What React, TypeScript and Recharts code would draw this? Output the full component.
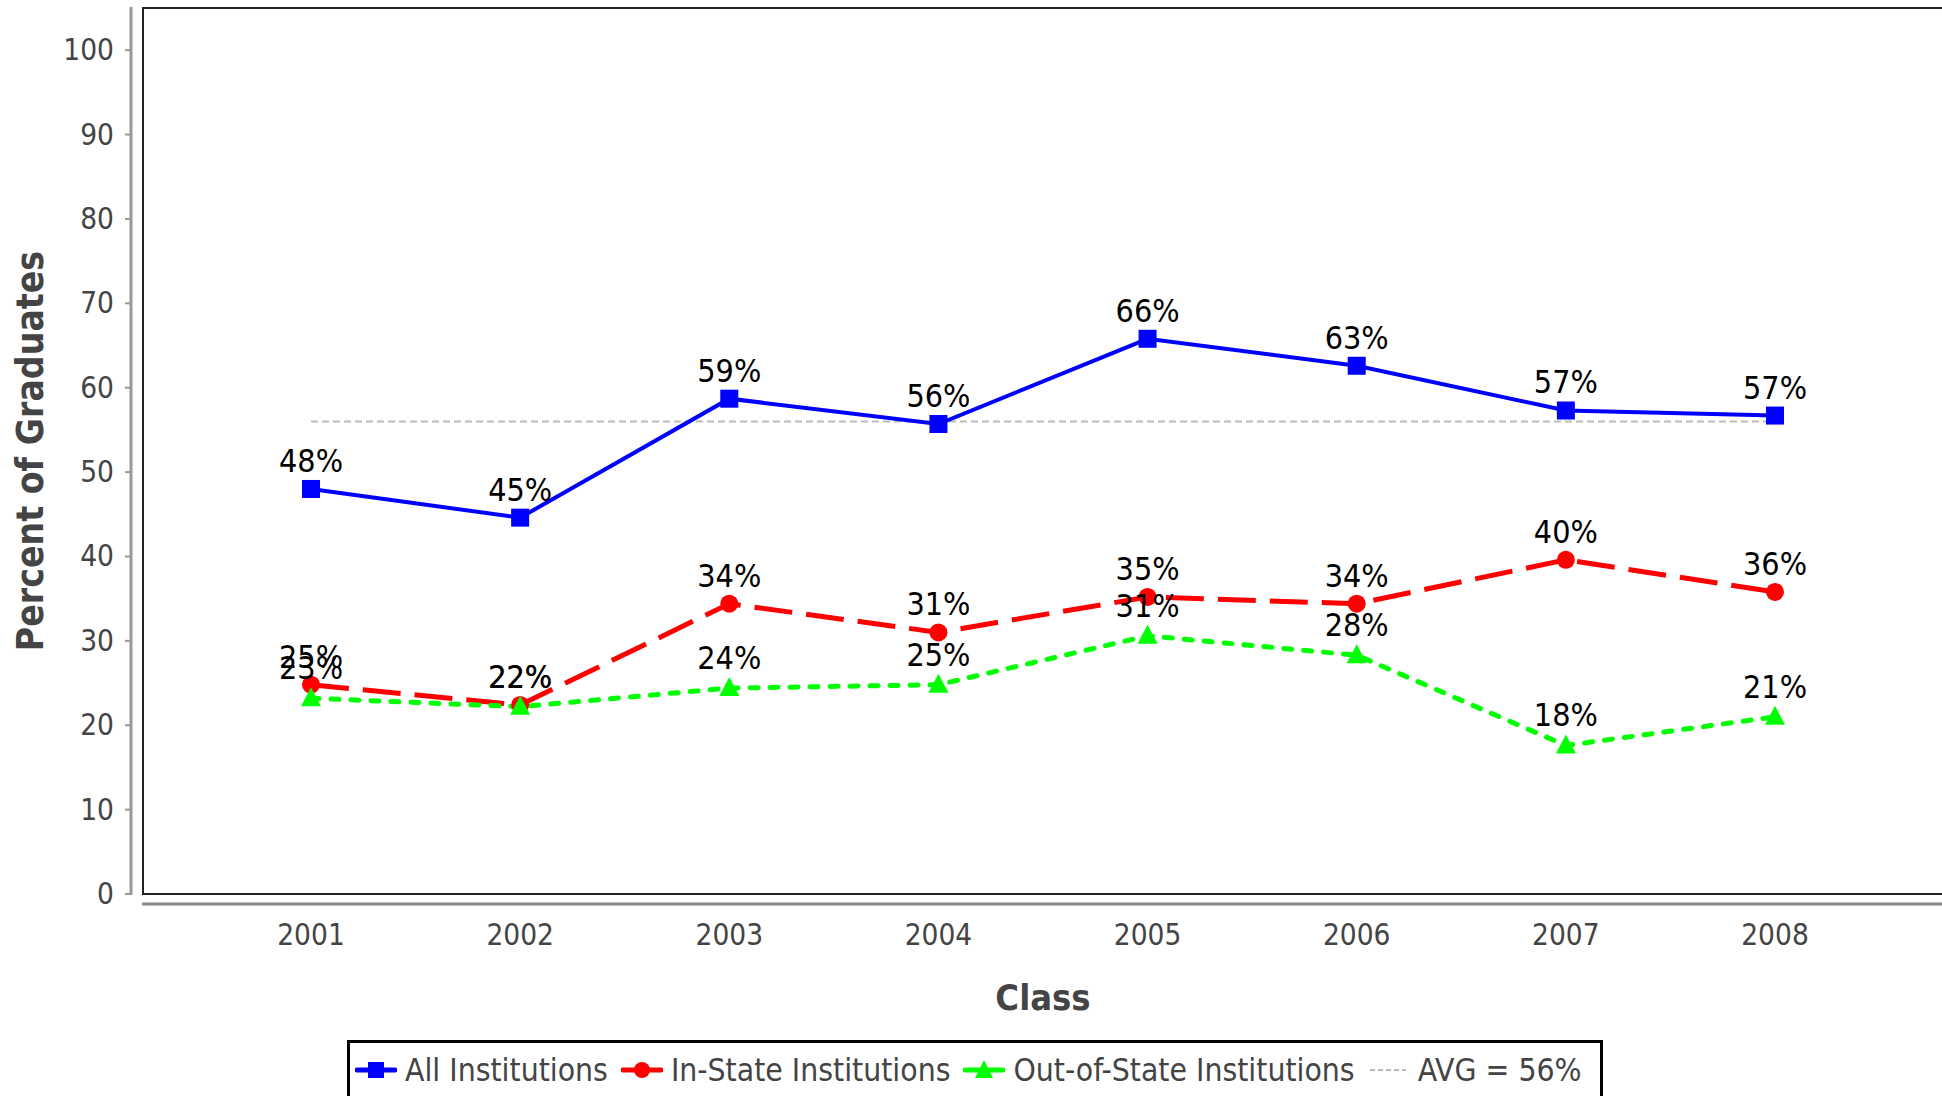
import React from "react";
import { LineChart, Line, XAxis, YAxis, LabelList } from "recharts";

const years = ["2001", "2002", "2003", "2004", "2005", "2006", "2007", "2008"];
const allInstitutions = [48.0, 44.6, 58.7, 55.7, 65.8, 62.6, 57.3, 56.7];
const inState = [24.8, 22.4, 34.4, 31.0, 35.2, 34.4, 39.6, 35.8];
const outOfState = [23.2, 22.2, 24.4, 24.8, 30.6, 28.3, 17.6, 21.0];
const average = 56;
const yTicks = [0, 10, 20, 30, 40, 50, 60, 70, 80, 90, 100];

const data = years.map((year, i) => ({
  year,
  all: allInstitutions[i],
  inState: inState[i],
  outState: outOfState[i],
  avg: average,
}));

const FONT = "'DejaVu Sans Condensed', 'DejaVu Sans', sans-serif";
const AXIS_TEXT = "#444";

// layout of the plot box
const PLOT_LEFT = 143;
const PLOT_TOP = 8;
const PLOT_BOTTOM = 894;
const CHART_W = 1960;

const pct = (v: any) => `${Math.round(Number(v))}%`;

const SquareDot = (props: any) => {
  const { cx, cy } = props;
  if (cx == null || cy == null) return null;
  return <rect x={cx - 9} y={cy - 9} width={18} height={18} fill="#0000ff" />;
};

const CircleDot = (props: any) => {
  const { cx, cy } = props;
  if (cx == null || cy == null) return null;
  return <circle cx={cx} cy={cy} r={9} fill="#ff0000" />;
};

const TriangleDot = (props: any) => {
  const { cx, cy } = props;
  if (cx == null || cy == null) return null;
  return (
    <path
      d={`M${cx},${cy - 11} L${cx + 10},${cy + 8} L${cx - 10},${cy + 8} Z`}
      fill="#00ff00"
    />
  );
};

const YTick = (props: any) => {
  const { x, y, payload } = props;
  return (
    <g>
      <line x1={x - 10} x2={x - 4} y1={y} y2={y} stroke="#999" strokeWidth={2} />
      <text
        x={x - 21}
        y={y}
        textAnchor="end"
        dominantBaseline="central"
        fontFamily={FONT}
        fontSize={29.5}
        fill={AXIS_TEXT}
      >
        {payload.value}
      </text>
    </g>
  );
};

const XTick = (props: any) => {
  const { x, y, payload } = props;
  return (
    <text
      x={x}
      y={y + 33}
      textAnchor="middle"
      dominantBaseline="central"
      fontFamily={FONT}
      fontSize={29.5}
      fill={AXIS_TEXT}
    >
      {payload.value}
    </text>
  );
};

const Frame = () => (
  <g>
    <rect
      x={PLOT_LEFT}
      y={PLOT_TOP}
      width={CHART_W}
      height={PLOT_BOTTOM - PLOT_TOP}
      fill="none"
      stroke="#222"
      strokeWidth={2}
    />
    <line x1={PLOT_LEFT - 12} x2={PLOT_LEFT - 12} y1={PLOT_TOP - 1} y2={PLOT_BOTTOM + 1} stroke="#999" strokeWidth={3} />
    <line x1={PLOT_LEFT - 1} x2={CHART_W} y1={PLOT_BOTTOM + 10} y2={PLOT_BOTTOM + 10} stroke="#888" strokeWidth={3} />
    <text
      x={1043}
      y={997}
      textAnchor="middle"
      dominantBaseline="central"
      fontFamily={FONT}
      fontWeight="bold"
      fontSize={36}
      fill={AXIS_TEXT}
    >
      Class
    </text>
    <text
      x={30}
      y={451}
      transform="rotate(-90 30 451)"
      textAnchor="middle"
      dominantBaseline="central"
      fontFamily={FONT}
      fontWeight="bold"
      fontSize={37}
      fill={AXIS_TEXT}
    >
      Percent of Graduates
    </text>
  </g>
);

const legendItems = [
  { name: "All Institutions", color: "#0000ff", marker: "square" },
  { name: "In-State Institutions", color: "#ff0000", marker: "circle" },
  { name: "Out-of-State Institutions", color: "#00ff00", marker: "triangle" },
  { name: `AVG = ${average}%`, color: "#bbb", marker: "none" },
];

const LegendIcon = ({ color, marker }: { color: string; marker: string }) => (
  <svg width={42} height={20} style={{ marginRight: 8, flexShrink: 0 }}>
    {marker === "none" ? (
      <line x1={2} x2={38} y1={10} y2={10} stroke={color} strokeWidth={2} strokeDasharray="5 3" />
    ) : (
      <line x1={2} x2={40} y1={10} y2={10} stroke={color} strokeWidth={5} strokeLinecap="round" />
    )}
    {marker === "square" && <rect x={13} y={2} width={16} height={16} fill={color} />}
    {marker === "circle" && <circle cx={21} cy={10} r={8} fill={color} />}
    {marker === "triangle" && <path d="M21,0 L30,18 L12,18 Z" fill={color} />}
  </svg>
);

export default function App() {
  return (
    <div
      style={{
        position: "fixed",
        left: 0,
        top: 0,
        width: 1942,
        height: 1096,
        overflow: "hidden",
        background: "#fff",
      }}
    >
      <LineChart
        width={CHART_W}
        height={1096}
        data={data}
        margin={{ top: PLOT_TOP, right: CHART_W - 1943, bottom: 142, left: 0 }}
      >
        <Frame />
        <XAxis
          dataKey="year"
          height={60}
          padding={{ left: 168, right: 168 }}
          axisLine={false}
          tickLine={false}
          tick={<XTick />}
          interval={0}
        />
        <YAxis
          width={PLOT_LEFT}
          domain={[0, 105]}
          ticks={yTicks}
          axisLine={false}
          tickLine={false}
          tick={<YTick />}
          allowDataOverflow
        />
        <Line
          dataKey="avg"
          stroke="#bbb"
          strokeWidth={2}
          strokeDasharray="7 4"
          dot={false}
          activeDot={false}
          isAnimationActive={false}
        />
        <Line
          dataKey="all"
          stroke="#0000ff"
          strokeWidth={4}
          dot={<SquareDot />}
          activeDot={false}
          isAnimationActive={false}
        >
          <LabelList dataKey="all" position="top" offset={17} formatter={pct} fontFamily={FONT} fontSize={32} fill="#000" />
        </Line>
        <Line
          dataKey="inState"
          stroke="#ff0000"
          strokeWidth={5}
          strokeDasharray="38 14"
          dot={<CircleDot />}
          activeDot={false}
          isAnimationActive={false}
        >
          <LabelList dataKey="inState" position="top" offset={17} formatter={pct} fontFamily={FONT} fontSize={32} fill="#000" />
        </Line>
        <Line
          dataKey="outState"
          stroke="#00ff00"
          strokeWidth={5}
          strokeDasharray="8 12"
          strokeLinecap="round"
          dot={<TriangleDot />}
          activeDot={false}
          isAnimationActive={false}
        >
          <LabelList dataKey="outState" position="top" offset={19} formatter={pct} fontFamily={FONT} fontSize={32} fill="#000" />
        </Line>
      </LineChart>
      <div
        style={{
          position: "absolute",
          left: 347,
          top: 1040,
          width: 1256,
          height: 80,
          boxSizing: "border-box",
          border: "3px solid #000",
          display: "flex",
          alignItems: "flex-start",
          paddingLeft: 5,
          paddingTop: 8,
          fontFamily: FONT,
          fontSize: 31.6,
          color: AXIS_TEXT,
          lineHeight: "38px",
          whiteSpace: "nowrap",
        }}
      >
        {legendItems.map((item) => (
          <div key={item.name} style={{ display: "flex", alignItems: "center", marginRight: 13 }}>
            <LegendIcon color={item.color} marker={item.marker} />
            <span>{item.name}</span>
          </div>
        ))}
      </div>
    </div>
  );
}
